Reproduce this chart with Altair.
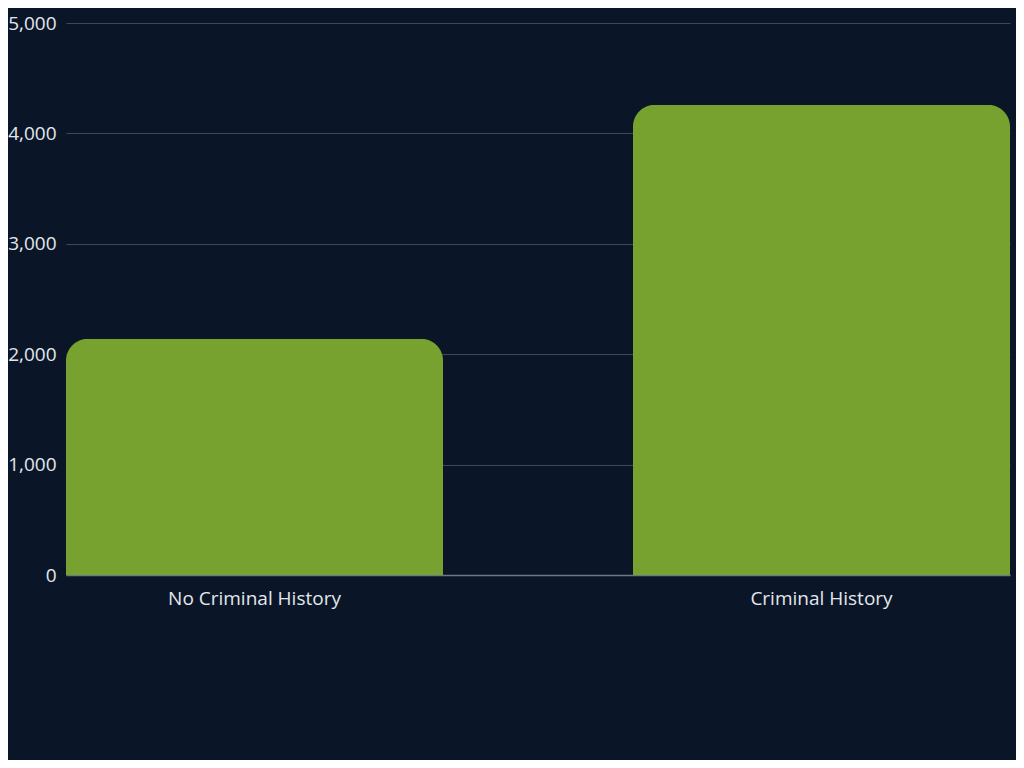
import altair as alt
import pandas as pd

categories = ["No Criminal History", "Criminal History"]
values = [2140, 4260]
y_ticks = [0, 1000, 2000, 3000, 4000, 5000]

df = pd.DataFrame({"group": categories, "count": values})

bars = alt.Chart(df).mark_bar(
    color="#78a22f",
    cornerRadiusTopLeft=22,
    cornerRadiusTopRight=22,
).encode(
    x=alt.X(
        "group:N",
        sort=categories,
        title=None,
        scale=alt.Scale(paddingInner=0.335, paddingOuter=0),
        axis=alt.Axis(
            labelAngle=0,
            labelFont="Open Sans",
            labelFontSize=19,
            labelColor="#e3e7ec",
            labelPadding=14,
            ticks=False,
            domain=True,
            domainColor="#6b7886",
            domainWidth=1.5,
            grid=False,
        ),
    ),
    y=alt.Y(
        "count:Q",
        title=None,
        scale=alt.Scale(domain=[0, 5000], nice=False),
        axis=alt.Axis(
            values=y_ticks,
            format=",d",
            labelFont="Open Sans",
            labelFontSize=19,
            labelColor="#e3e7ec",
            labelPadding=10,
            ticks=False,
            domain=False,
            grid=True,
            gridColor="#3b4a5a",
            gridWidth=1,
        ),
    ),
)

chart = bars.properties(
    width=944,
    height=552,
    background="#0a1628",
    padding={"left": 58, "top": 15, "right": 6, "bottom": 185},
    autosize=alt.AutoSizeParams(type="none"),
).configure_view(stroke=None)

chart.save("out.html", embed_options={"renderer": "svg", "actions": False})
